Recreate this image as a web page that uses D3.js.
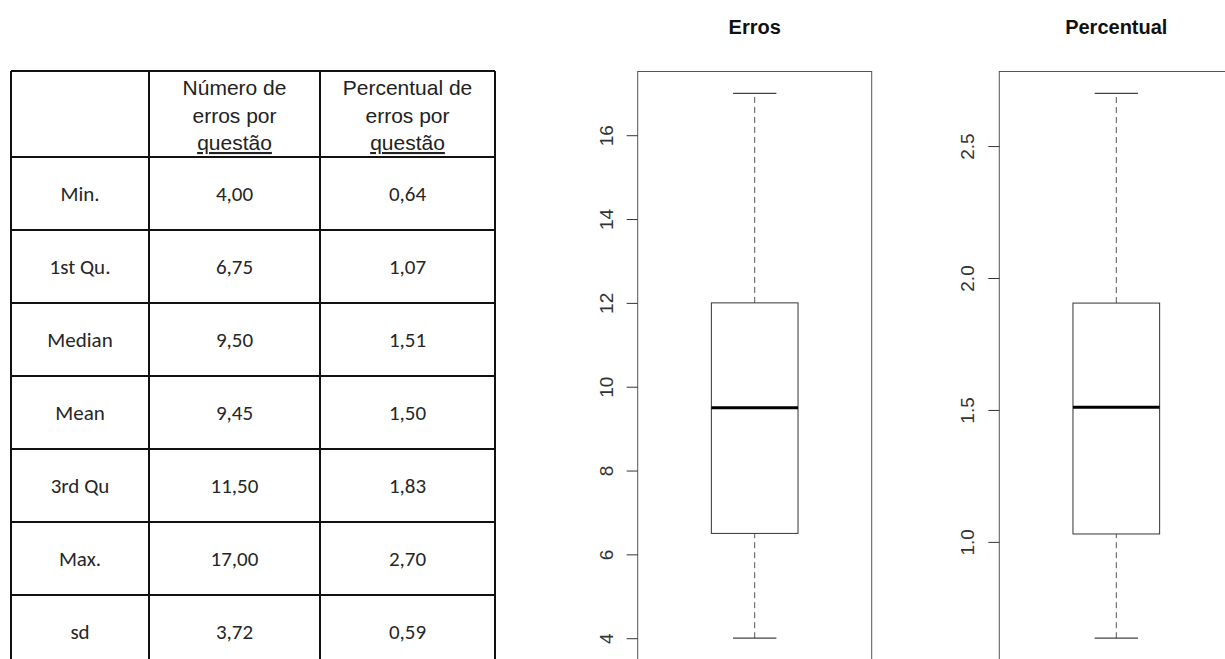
<!DOCTYPE html>
<html>
<head>
<meta charset="utf-8">
<script src="https://cdn.jsdelivr.net/npm/d3@7"></script>
<style>
  body { margin: 0; background: #fff; }
  svg { display: block; }
  .cab { font-family: "Liberation Sans", Arial, sans-serif; font-size: 21px; fill: #222; }
  .cel { font-family: Carlito, Calibri, Lato, sans-serif; font-size: 21px; fill: #262626; }
  .titulo { font-family: "Liberation Sans", Arial, sans-serif; font-size: 20px; font-weight: bold; fill: #111; }
  .eixo text { font-family: "Liberation Sans", Arial, sans-serif; font-size: 19px; fill: #333; }
  .eixo line { stroke: #333; }
</style>
</head>
<body>
<svg id="grafico" width="1225" height="659"></svg>
<script>
// Tabela de estatísticas
const rotulosEstat = ["Min.", "1st Qu.", "Median", "Mean", "3rd Qu", "Max.", "sd"];
const numeroErros  = ["4,00", "6,75", "9,50", "9,45", "11,50", "17,00", "3,72"];
const percErros    = ["0,64", "1,07", "1,51", "1,50", "1,83", "2,70", "0,59"];
const cabecalhos   = [
    ["Número de", "erros por", "questão"],
    ["Percentual de", "erros por", "questão"],
];

// Boxplots: [min, Q1, mediana, Q3, max]
const boxErros = [4, 6.5, 9.5, 12, 17];
const boxPerc  = [0.635, 1.03, 1.51, 1.905, 2.70];
const ticksErros = [4, 6, 8, 10, 12, 14, 16];
const ticksPerc  = [1.0, 1.5, 2.0, 2.5];

const svg = d3.select("#grafico");
svg.append("rect").attr("width", 1225).attr("height", 659).attr("fill", "#fff");

// ---------- tabela ----------
const tab = svg.append("g");
const colX = [11, 149, 320, 495];
const topoTab = 71, fimCab = 157;
const linhas = d3.scaleBand().domain(rotulosEstat).range([fimCab, 668]);
const colunas = [rotulosEstat, numeroErros, percErros];

// linhas horizontais
tab.selectAll(".hl")
    .data([topoTab, fimCab].concat(rotulosEstat.slice(1).map(r => linhas(r))))
    .join("line")
    .attr("x1", colX[0]).attr("x2", colX[3])
    .attr("y1", d => d).attr("y2", d => d)
    .attr("stroke", "#111").attr("stroke-width", 2);

// linhas verticais
tab.selectAll(".vl")
    .data(colX)
    .join("line")
    .attr("x1", d => d).attr("x2", d => d)
    .attr("y1", topoTab).attr("y2", 668)
    .attr("stroke", "#111").attr("stroke-width", 2);

// cabeçalho
cabecalhos.forEach((linhasTxt, i) => {
    const cx = (colX[i + 1] + colX[i + 2]) / 2;
    tab.selectAll(null)
        .data(linhasTxt)
        .join("text")
        .attr("class", "cab")
        .attr("x", cx)
        .attr("y", (d, j) => 95 + j * 27.5)
        .attr("text-anchor", "middle")
        .style("text-decoration", (d, j) => j === 2 ? "underline" : null)
        .text(d => d);
});

// células
colunas.forEach((valores, i) => {
    const cx = (colX[i] + colX[i + 1]) / 2;
    tab.selectAll(null)
        .data(valores)
        .join("text")
        .attr("class", "cel")
        .attr("x", cx)
        .attr("y", (d, j) => linhas(rotulosEstat[j]) + linhas.bandwidth() / 2)
        .attr("dy", "0.36em")
        .attr("text-anchor", "middle")
        .text(d => d);
});

// ---------- boxplots ----------
function desenhaBox(esq, titulo, stats, ticks, fmt) {
    const faixa = stats[4] - stats[0];
    const y = d3.scaleLinear()
        .domain([stats[0] - 0.04 * faixa, stats[4] + 0.04 * faixa])
        .range([660, 71.5]);
    const x = d3.scaleLinear().domain([0.46, 1.54]).range([esq, esq + 234]);
    const g = svg.append("g");

    g.append("text")
        .attr("class", "titulo")
        .attr("x", x(1)).attr("y", 34)
        .attr("text-anchor", "middle")
        .text(titulo);

    // bigodes
    g.selectAll(".bigode")
        .data([[stats[0], stats[1]], [stats[3], stats[4]]])
        .join("line")
        .attr("x1", x(1)).attr("x2", x(1))
        .attr("y1", d => y(d[0])).attr("y2", d => y(d[1]))
        .attr("stroke", "#555").attr("stroke-dasharray", "6,4");

    g.selectAll(".cap")
        .data([stats[0], stats[4]])
        .join("line")
        .attr("x1", x(0.9)).attr("x2", x(1.1))
        .attr("y1", d => y(d)).attr("y2", d => y(d))
        .attr("stroke", "#444").attr("stroke-width", 1.3);

    g.append("rect")
        .attr("x", x(0.8)).attr("width", x(1.2) - x(0.8))
        .attr("y", y(stats[3])).attr("height", y(stats[1]) - y(stats[3]))
        .attr("fill", "none").attr("stroke", "#333");

    g.append("line")
        .attr("x1", x(0.8)).attr("x2", x(1.2))
        .attr("y1", y(stats[2])).attr("y2", y(stats[2]))
        .attr("stroke", "#000").attr("stroke-width", 3);

    // moldura
    g.append("rect")
        .attr("x", x(0.46)).attr("y", y.range()[1])
        .attr("width", x(1.54) - x(0.46)).attr("height", y.range()[0] - y.range()[1])
        .attr("fill", "none").attr("stroke", "#555");

    const eixo = g.append("g")
        .attr("class", "eixo")
        .attr("transform", `translate(${x(0.46)},0)`)
        .call(d3.axisLeft(y).tickValues(ticks).tickSize(11).tickSizeOuter(0).tickFormat(fmt));
    eixo.select(".domain").remove();
    eixo.selectAll("text")
        .attr("x", null).attr("y", null)
        .attr("transform", "translate(-32,0) rotate(-90)")
        .attr("dy", "0.36em")
        .attr("text-anchor", "middle");
}

desenhaBox(637.7, "Erros", boxErros, ticksErros, d3.format("d"));
desenhaBox(999.3, "Percentual", boxPerc, ticksPerc, d3.format(".1f"));
</script>
</body>
</html>
